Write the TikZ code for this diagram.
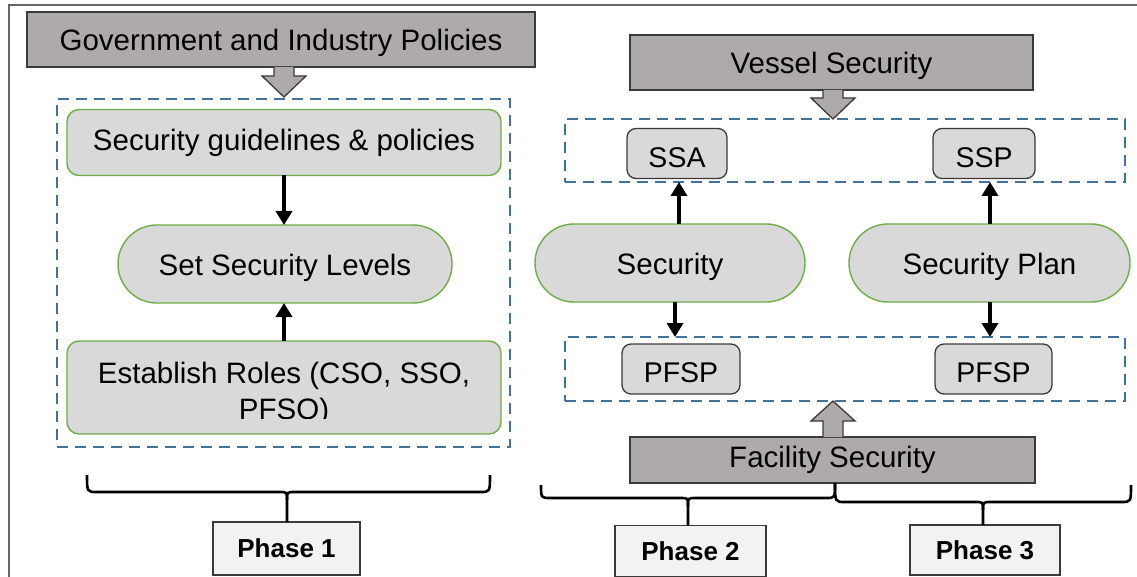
\documentclass[tikz,border=0pt]{standalone}
\usepackage{fontspec}
\setmainfont{Liberation Sans}
\usetikzlibrary{arrows.meta}
\definecolor{hdrgray}{HTML}{AEAAAA}
\definecolor{boxgray}{HTML}{D9D9D9}
\definecolor{phasegray}{HTML}{F2F2F2}
\definecolor{edgegreen}{HTML}{70AD47}
\definecolor{dashblue}{HTML}{41719C}
\definecolor{edgedark}{HTML}{3A3A3A}
\tikzset{
  x=1pt, y=-1pt,
  every node/.style={inner sep=0pt, outer sep=0pt},
  mainfont/.style={font=\fontsize{29.5}{36}\selectfont},
  lowtext/.style={text height=28pt, text depth=5.6pt},
  header/.style={draw=edgedark, fill=hdrgray, line width=1.5pt, mainfont},
  greenbox/.style={draw=edgegreen, fill=boxgray, line width=1.4pt, rounded corners=12pt, mainfont},
  pill/.style={draw=edgegreen, fill=boxgray, line width=1.4pt, rounded corners=38.9pt, mainfont, lowtext},
  smallbox/.style={draw=edgedark, fill=boxgray, line width=1.3pt, rounded corners=9pt,
    font=\fontsize{28.5}{32}\selectfont, text height=28pt, text depth=0.2pt},
  groupbox/.style={draw=dashblue, line width=2.6pt, dash pattern=on 11pt off 7pt},
  phasebox/.style={draw=edgedark, fill=phasegray, line width=1.5pt, font=\bfseries\fontsize{26}{30}\selectfont},
  flow/.style={line width=3.5pt, -{Triangle[length=14pt, width=16pt]}},
  blockarrow/.style={draw=edgedark, fill=hdrgray, line width=1.3pt, line join=miter},
  bracket/.style={line width=2.6pt},
  frameline/.style={draw=gray!80!black, line width=2pt}
}
\begin{document}
\begin{tikzpicture}
\useasboundingbox (0,0) rectangle (1137,577);

% outer frame (top and left edges)
\draw[frameline] (1137,5) -- (9,5) -- (9,577);

% ---------------- Phase 1 column ----------------
\node[header, lowtext, minimum width=508pt, minimum height=55pt] (gov) at (281,39.5) {Government and Industry Policies};
\node[groupbox, minimum width=453pt, minimum height=348pt] (grp1) at (283.5,273) {};
\node[greenbox, minimum width=434pt, minimum height=66pt] (guide) at (284,142.5) {Security guidelines \& policies};
\node[pill, minimum width=334pt, minimum height=78pt] (levels) at (285,264) {Set Security Levels};
\node[greenbox, minimum width=434pt, minimum height=93pt] (roles) at (284,387.5) {};
\begin{scope}
  \clip (60,341) rectangle (505,418);
  \node[mainfont, align=center] (rolestext) at (284,394) {Establish Roles (CSO, SSO,\\PFSO)};
\end{scope}
\node[phasebox, minimum width=147pt, minimum height=53pt] (ph1) at (286.5,548.5) {Phase 1};

% block arrow from policies into the group
\filldraw[blockarrow] (gov.south -| 274,0) -- (274,76) -- (262,76) -- (284,97) -- (306,76) -- (294,76) -- (gov.south -| 294,0);

\draw[flow] (guide.south -| 284,0) -- (levels.north -| 284,0);
\draw[flow] (roles.north -| 284,0) -- (levels.south -| 284,0);

% bracket over Phase 1
\coordinate (b1l) at (87,475);
\coordinate (b1r) at (490,475);
\draw[bracket] (b1l) .. controls (87,492) .. (97,492) -- (279,492) .. controls (287,492) .. (287,500) -- (ph1.north -| 287,0);
\draw[bracket] (287,500) .. controls (287,492) .. (295,492) -- (480,492) .. controls (490,492) .. (b1r);

% ---------------- Phase 2 / 3 columns ----------------
\node[header, lowtext, minimum width=403pt, minimum height=55pt] (vessel) at (831.5,62.5) {Vessel Security};
\node[groupbox, minimum width=560pt, minimum height=63pt] (grptop) at (845,150.5) {};
\node[smallbox, minimum width=100pt, minimum height=50pt] (ssa) at (677,153.5) {SSA};
\node[smallbox, minimum width=102pt, minimum height=50pt] (ssp) at (984,153.5) {SSP};
\node[pill, minimum width=270pt, minimum height=78pt] (sec) at (670,263) {Security};
\node[pill, minimum width=281pt, minimum height=78pt] (plan) at (989.5,263) {Security Plan};
\node[groupbox, minimum width=560pt, minimum height=64pt] (grpbot) at (845,369) {};
\node[smallbox, minimum width=118pt, minimum height=50pt] (pfsp1) at (681,369) {PFSP};
\node[smallbox, minimum width=117pt, minimum height=50pt] (pfsp2) at (993.5,369) {PFSP};
\node[header, minimum width=405pt, minimum height=46pt] (facility) at (832.5,460) {Facility Security};
\node[phasebox, minimum width=151pt, minimum height=51pt] (ph2) at (690.5,551) {Phase 2};
\node[phasebox, minimum width=150pt, minimum height=50pt] (ph3) at (985,550) {Phase 3};

% block arrows
\filldraw[blockarrow] (vessel.south -| 823,0) -- (823,98) -- (811,98) -- (833,119) -- (855,98) -- (843,98) -- (vessel.south -| 843,0);
\filldraw[blockarrow] (facility.north -| 823,0) -- (823,421) -- (811,421) -- (833,401) -- (855,421) -- (843,421) -- (facility.north -| 843,0);

% flows
\draw[flow] (sec.north -| 679,0) -- (grptop.south -| 679,0);
\draw[flow] (plan.north -| 990,0) -- (grptop.south -| 990,0);
\draw[flow] (sec.south -| 675,0) -- (grpbot.north -| 675,0);
\draw[flow] (plan.south -| 990,0) -- (grpbot.north -| 990,0);

% brackets over Phase 2 and Phase 3
\coordinate (b2l) at (541,485);
\coordinate (bmid) at (facility.south -| 835,0);
\coordinate (b3r) at (1131,485);
\draw[bracket] (b2l) .. controls (541,498) .. (551,498) -- (680,498) .. controls (688,498) .. (688,506) -- (ph2.north -| 688,0);
\draw[bracket] (688,506) .. controls (688,498) .. (696,498) -- (826,498) .. controls (835,498) .. (bmid);
\draw[bracket] (bmid) .. controls (835,502) .. (845,502) -- (975,502) .. controls (983,502) .. (983,510) -- (ph3.north -| 983,0);
\draw[bracket] (983,510) .. controls (983,502) .. (991,502) -- (1121,502) .. controls (1131,502) .. (b3r);
\end{tikzpicture}
\end{document}
